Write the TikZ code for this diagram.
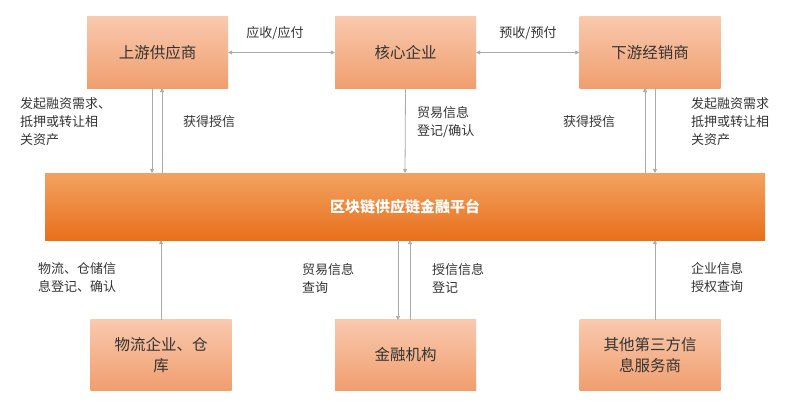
\documentclass[tikz,border=0pt]{standalone}
\usepackage{fontspec}
\setmainfont{Noto Sans CJK SC}
\usetikzlibrary{arrows.meta}
\definecolor{boxtop}{HTML}{F9C9AE}
\definecolor{boxbot}{HTML}{F09E6E}
\definecolor{plattop}{HTML}{F3A261}
\definecolor{platbot}{HTML}{E8701C}
\definecolor{ln}{HTML}{ABABAB}
\definecolor{txt}{HTML}{333333}
\begin{document}
\begin{tikzpicture}[x=1pt,y=-1pt,
  ent/.style={draw=none,top color=boxtop,bottom color=boxbot,minimum width=141pt,minimum height=71pt,font=\fontsize{15.5}{21}\selectfont,text=txt,align=center,inner sep=0pt},
  lbl/.style={font=\fontsize{13}{18}\selectfont,text=txt,align=left,anchor=west,inner sep=0pt},
  arr/.style={draw=ln,line width=0.8pt,-{Triangle[length=4pt,width=4pt]}},
  darr/.style={draw=ln,line width=0.8pt,{Triangle[length=4pt,width=4pt]}-{Triangle[length=4pt,width=4pt]}}]
\useasboundingbox (0,0) rectangle (791,404);
\node[ent] (up) at (157.5,52.5) {上游供应商};
\node[ent] (core) at (405.5,52.5) {核心企业};
\node[ent] (down) at (650,52.5) {下游经销商};
\node[draw=none,top color=plattop,bottom color=platbot,minimum width=720pt,minimum height=67pt,text=white,font=\fontsize{15}{18}\selectfont\bfseries,inner sep=0pt] (plat) at (405,206.5) {区块链供应链金融平台};
\node[ent] (log) at (161,355) {物流企业、仓\\库};
\node[ent] (fin) at (405.5,355) {金融机构};
\node[ent] (oth) at (650,355) {其他第三方信\\息服务商};
\draw[darr] (up.east) -- (core.west);
\draw[darr] (core.east) -- (down.west);
\node[lbl,anchor=south] (l1) at (275,40) {应收/应付};
\node[lbl,anchor=south] (l2) at (528,40) {预收/预付};
% upstream
\draw[arr] (152,88) -- (152,173);
\draw[arr] (162,173) -- (162,88);
\node[lbl] at (20,122) {发起融资需求、\\抵押或转让相\\关资产};
\node[lbl] at (183,122) {获得授信};
% core
\draw[arr] (core.south) -- (405,173);
\node[lbl] at (417,122) {贸易信息\\登记/确认};
% downstream
\draw[arr] (645,173) -- (645,88);
\draw[arr] (655,88) -- (655,173);
\node[lbl] at (563,122) {获得授信};
\node[lbl] at (691,122) {发起融资需求\\抵押或转让相\\关资产};
% bottom
\draw[arr] (161,320) -- (161,240);
\node[lbl] at (38,278) {物流、仓储信\\息登记、确认};
\draw[arr] (398,240) -- (398,320);
\draw[arr] (410,320) -- (410,240);
\node[lbl] at (302,278) {贸易信息\\查询};
\node[lbl] at (432,278) {授信信息\\登记};
\draw[arr] (655,320) -- (655,240);
\node[lbl] at (691,278) {企业信息\\授权查询};
\end{tikzpicture}
\end{document}
